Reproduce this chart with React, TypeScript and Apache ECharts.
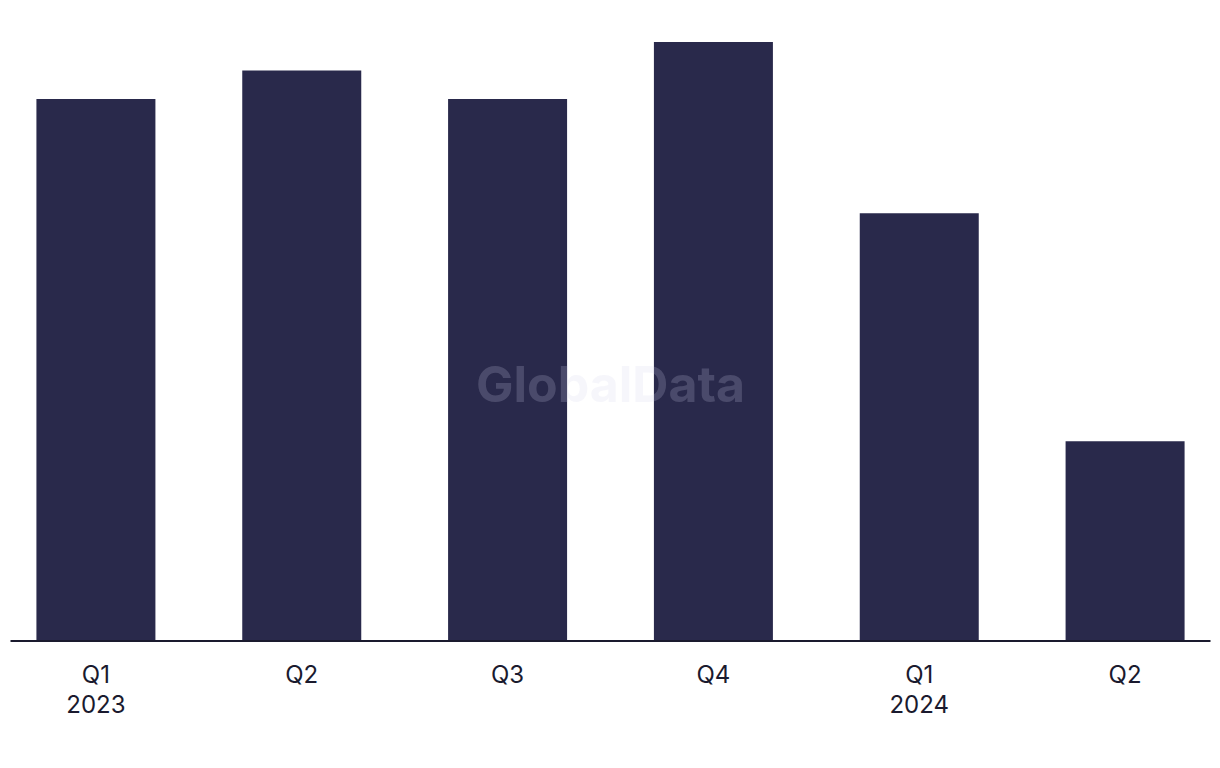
import React, { useEffect, useRef } from "react";
import * as echarts from "echarts";

const categories = ["Q1\n2023", "Q2", "Q3", "Q4", "Q1\n2024", "Q2"];
const values = [19, 20, 19, 21, 15, 7];
const yMax = 21;

export default function App() {
  const ref = useRef<HTMLDivElement>(null);
  useEffect(() => {
    if (!ref.current) return;
    const chart = echarts.init(ref.current, null, { renderer: "svg" });
    chart.setOption({
      animation: false,
      grid: { left: 0, right: 0, top: 42, bottom: 127, containLabel: false },
      xAxis: {
        type: "category",
        data: categories,
        axisLine: { show: false },
        axisTick: { show: false },
        axisLabel: {
          color: "#1a1a2e",
          fontSize: 24,
          lineHeight: 30,
          margin: 18,
          fontFamily: "Inter, Liberation Sans, Arial, sans-serif",
        },
      },
      yAxis: {
        type: "value",
        min: 0,
        max: yMax,
        show: false,
        splitLine: { show: false },
      },
      series: [
        {
          type: "bar",
          data: values,
          barWidth: 119,
          itemStyle: { color: "#29294b" },
        },
      ],
      graphic: [
        {
          type: "line",
          shape: { x1: 17.5, y1: 641, x2: 1217.5, y2: 641 },
          style: { stroke: "#1a1a2e", lineWidth: 2 },
          z: 10,
        },
        {
          type: "text",
          x: 617.5,
          y: 384,
          style: {
            text: "GlobalData",
            fill: "rgba(211,211,235,0.2)",
            font: "bold 50px Inter, Liberation Sans, Arial, sans-serif",
            textAlign: "center",
            textVerticalAlign: "middle",
          },
          z: 100,
        },
      ],
    });
    return () => chart.dispose();
  }, []);
  return (
    <div
      ref={ref}
      style={{ position: "absolute", left: -7.5, top: 0, width: 1235, height: 768 }}
    />
  );
}
